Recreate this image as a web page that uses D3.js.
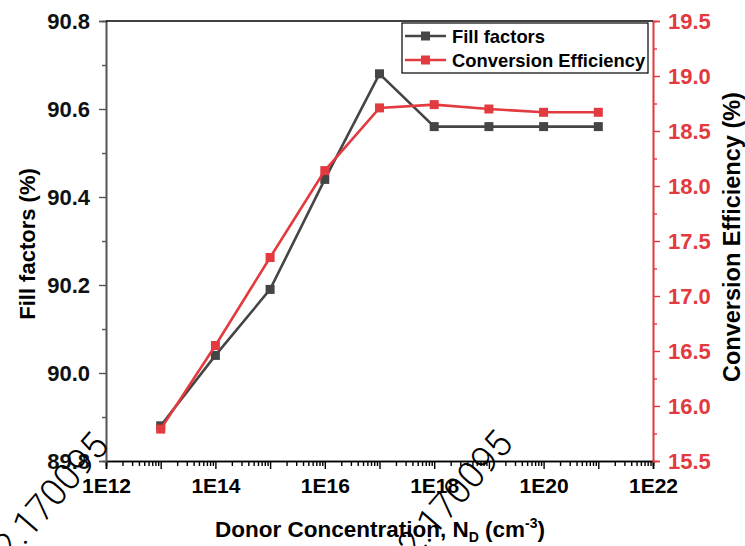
<!DOCTYPE html>
<html>
<head>
<meta charset="utf-8">
<script src="https://cdn.jsdelivr.net/npm/d3@7"></script>
<style>
  html, body { margin: 0; padding: 0; background: #fff; }
  svg { display: block; font-family: "Liberation Sans", Arial, sans-serif; }
  .tick text { font-weight: bold; }
</style>
</head>
<body>
<svg id="chart" width="745" height="546"></svg>
<script>
// Donor concentration (cm^-3) for each simulated device
const donorConcentration = [1e13, 1e14, 1e15, 1e16, 1e17, 1e18, 1e19, 1e20, 1e21];
// Fill factor (%) – left axis
const fillFactors = [89.88, 90.04, 90.19, 90.44, 90.68, 90.56, 90.56, 90.56, 90.56];
// Conversion efficiency (%) – right axis
const conversionEfficiency = [15.79, 16.55, 17.35, 18.14, 18.71, 18.74, 18.70, 18.67, 18.67];

// Tick labels
const xTickLabels = ["1E12", "1E14", "1E16", "1E18", "1E20", "1E22"];
const leftTickLabels = ["89.8", "90.0", "90.2", "90.4", "90.6", "90.8"];
const rightTickLabels = ["15.5", "16.0", "16.5", "17.0", "17.5", "18.0", "18.5", "19.0", "19.5"];

const seriesNames = ["Fill factors", "Conversion Efficiency"];
const watermarkText = "2.170095";

const GREY = "#454545";
const RED = "#e23a3e";

const svg = d3.select("#chart");
const plotLeft = 106, plotRight = 653, plotTop = 21, plotBottom = 461;

const x = d3.scaleLog().domain([1e12, 1e22]).range([plotLeft, plotRight]);
const yL = d3.scaleLinear().domain([+leftTickLabels[0], +leftTickLabels[leftTickLabels.length - 1]]).range([plotBottom, plotTop]);
const yR = d3.scaleLinear().domain([+rightTickLabels[0], +rightTickLabels[rightTickLabels.length - 1]]).range([plotBottom, plotTop]);

// ---- X axis (log) ----
const decades = d3.range(12, 23).map(e => Math.pow(10, e));
const minorX = [];
for (let e = 12; e < 22; e++) for (let m = 2; m <= 9; m++) minorX.push(m * Math.pow(10, e));
const labelFor = v => {
  const s = "1E" + Math.round(Math.log10(v));
  return xTickLabels.includes(s) ? s : "";
};

const xg = svg.append("g").attr("transform", `translate(0,${plotBottom})`);
xg.append("g").call(d3.axisBottom(x).tickValues(minorX).tickSize(5).tickFormat(""));
xg.append("g").call(d3.axisBottom(x).tickValues(decades).tickSize(8).tickPadding(9).tickFormat(labelFor));
xg.selectAll("path.domain").attr("stroke", "#000").attr("stroke-width", 1.6);
xg.selectAll(".tick line").attr("stroke", "#000").attr("stroke-width", 1.4);
xg.selectAll(".tick text").attr("font-size", 21).attr("fill", "#000");

// ---- Left axis ----
const leftMajor = leftTickLabels.map(Number);
const leftMinor = leftMajor.slice(0, -1).map(v => +(v + 0.1).toFixed(2));
const lg = svg.append("g").attr("transform", `translate(${plotLeft},0)`);
lg.append("g").call(d3.axisLeft(yL).tickValues(leftMinor).tickSize(4).tickFormat(""));
lg.append("g").call(d3.axisLeft(yL).tickValues(leftMajor).tickSize(7).tickPadding(9).tickFormat(d3.format(".1f")));
lg.selectAll("path.domain").attr("stroke", "#555").attr("stroke-width", 1.6);
lg.selectAll(".tick line").attr("stroke", "#555").attr("stroke-width", 1.4);
lg.selectAll(".tick text").attr("font-size", 22).attr("fill", "#111");

// ---- Right axis ----
const rightMajor = rightTickLabels.map(Number);
const rightMinor = rightMajor.slice(0, -1).map(v => v + 0.25);
const rg = svg.append("g").attr("transform", `translate(${plotRight},0)`);
rg.append("g").call(d3.axisRight(yR).tickValues(rightMinor).tickSize(4).tickFormat(""));
rg.append("g").call(d3.axisRight(yR).tickValues(rightMajor).tickSize(7).tickPadding(8).tickFormat(d3.format(".1f")));
rg.selectAll("path.domain").attr("stroke", RED).attr("stroke-width", 1.6);
rg.selectAll(".tick line").attr("stroke", RED).attr("stroke-width", 1.4);
rg.selectAll(".tick text").attr("font-size", 22).attr("fill", RED);

// Top frame line
svg.append("line").attr("x1", plotLeft).attr("x2", plotRight).attr("y1", plotTop).attr("y2", plotTop)
  .attr("stroke", "#000").attr("stroke-width", 1.6);

// ---- Series ----
const series = [
  { name: seriesNames[0], values: fillFactors, y: yL, color: GREY },
  { name: seriesNames[1], values: conversionEfficiency, y: yR, color: RED }
];
const M = 9;
series.forEach(s => {
  const pts = donorConcentration.map((c, i) => [x(c), s.y(s.values[i])]);
  svg.append("path").attr("d", d3.line()(pts))
    .attr("fill", "none").attr("stroke", s.color).attr("stroke-width", 2.6);
  svg.append("g").selectAll("rect").data(pts).join("rect")
    .attr("x", d => d[0] - M / 2).attr("y", d => d[1] - M / 2)
    .attr("width", M).attr("height", M).attr("fill", s.color);
});

// ---- Legend ----
const legend = svg.append("g");
legend.append("rect").attr("x", 402).attr("y", 23).attr("width", 246).attr("height", 50)
  .attr("fill", "#fff").attr("stroke", "#000").attr("stroke-width", 1.2);
series.forEach((s, i) => {
  const cy = 36 + i * 24;
  legend.append("line").attr("x1", 405).attr("x2", 446).attr("y1", cy).attr("y2", cy)
    .attr("stroke", s.color).attr("stroke-width", 2.6);
  legend.append("rect").attr("x", 425.5 - M / 2).attr("y", cy - M / 2).attr("width", M).attr("height", M)
    .attr("fill", s.color);
  legend.append("text").attr("x", 452).attr("y", cy + 6.5).attr("font-size", 18.4)
    .attr("font-weight", "bold").attr("fill", "#000").text(s.name);
});

// ---- Axis titles ----
const xt = svg.append("text").attr("x", 380).attr("y", 537).attr("text-anchor", "middle")
  .attr("font-size", 22.5).attr("font-weight", "bold").attr("fill", "#000");
xt.append("tspan").text("Donor Concentration, N");
xt.append("tspan").attr("font-size", 14).attr("dy", 5).text("D");
xt.append("tspan").attr("dy", -5).text(" (cm");
xt.append("tspan").attr("font-size", 14).attr("dy", -9).text("-3");
xt.append("tspan").attr("dy", 9).text(")");

svg.append("text").attr("transform", "translate(35,244) rotate(-90)").attr("text-anchor", "middle")
  .attr("font-size", 22).attr("font-weight", "bold").attr("fill", "#000").text("Fill factors (%)");

svg.append("text").attr("transform", "translate(740,237) rotate(-90)").attr("text-anchor", "middle")
  .attr("font-size", 23.5).attr("font-weight", "bold").attr("fill", "#000").text("Conversion Efficiency (%)");

// ---- Diagonal stamp text ----
[[51, 496], [455, 494]].forEach(([cx, cy]) => {
  svg.append("text").attr("transform", `translate(${cx},${cy}) rotate(-49)`)
    .attr("text-anchor", "middle").attr("dominant-baseline", "central")
    .attr("font-family", "Roboto, 'Liberation Sans', sans-serif").attr("font-weight", 300)
    .attr("font-size", 37).attr("fill", "#000").text(watermarkText);
});
</script>
</body>
</html>
